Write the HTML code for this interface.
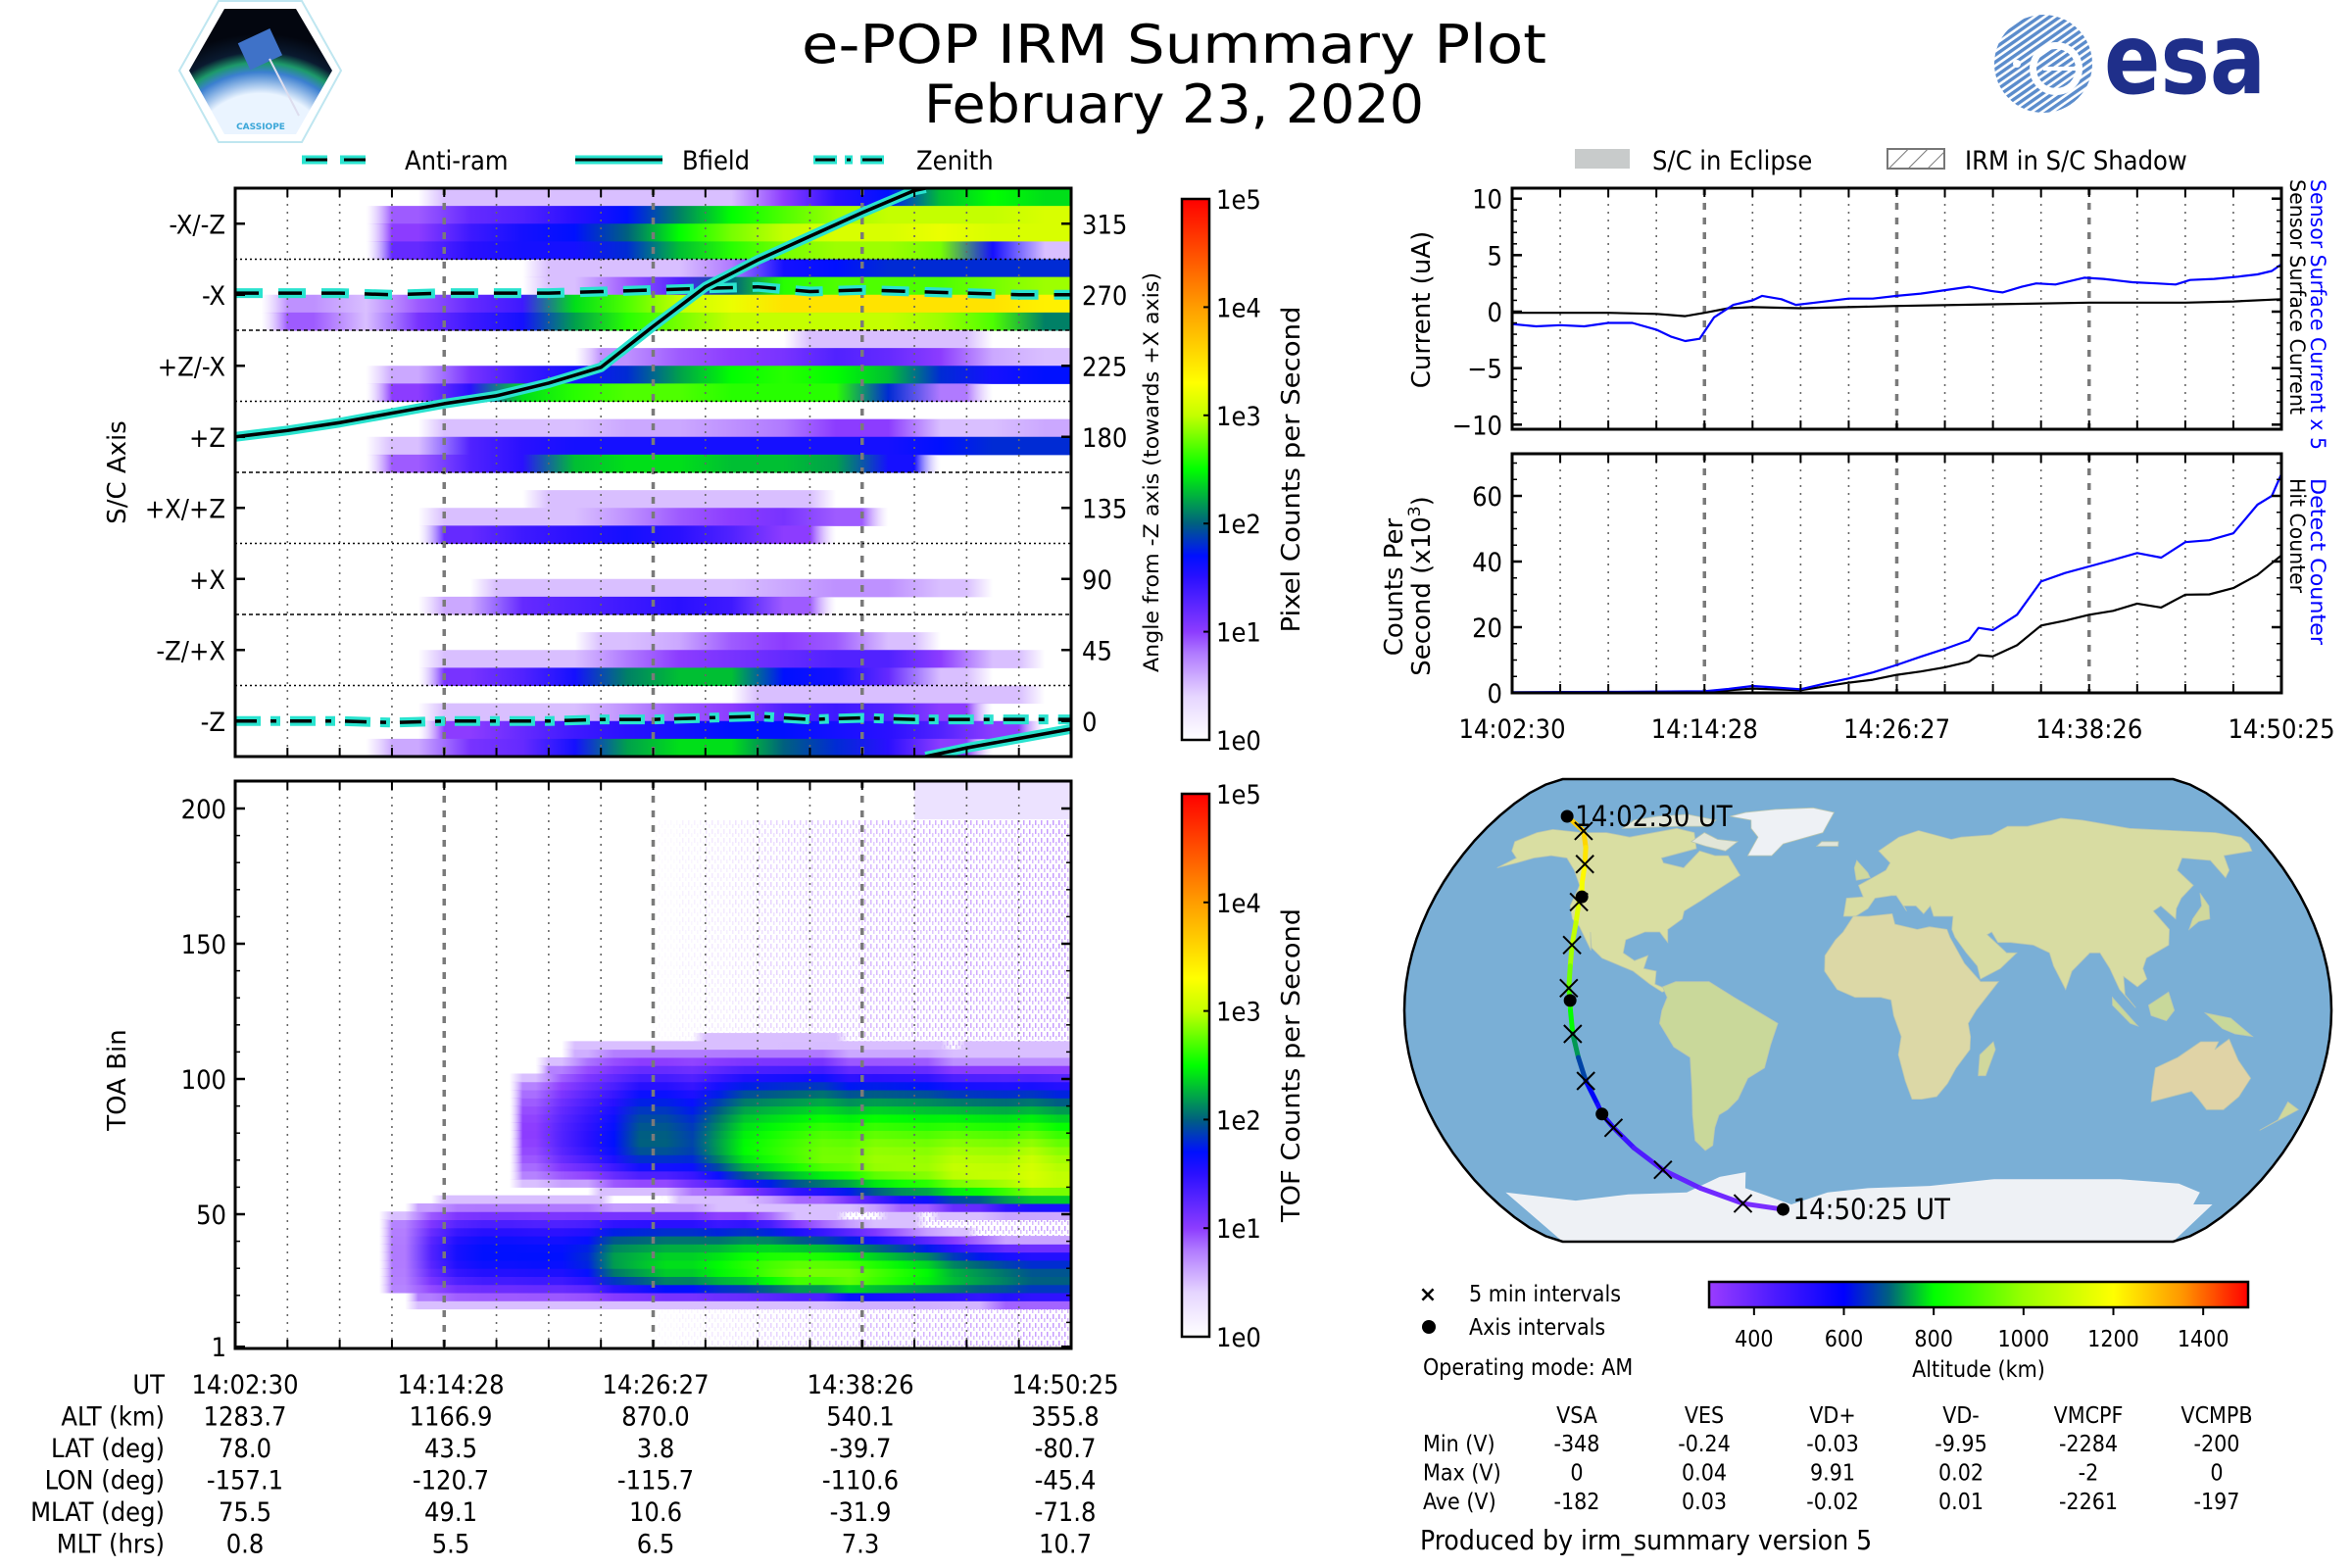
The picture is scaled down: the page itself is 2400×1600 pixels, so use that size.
<!DOCTYPE html>
<html><head><meta charset="utf-8">
<style>
html,body{margin:0;padding:0;background:#fff;}
svg{display:block;}
.c{font-family:"DejaVu Sans Condensed","DejaVu Sans","Liberation Sans",sans-serif;font-stretch:condensed;}
.n{font-family:"DejaVu Sans","Liberation Sans",sans-serif;}
</style></head>
<body>
<svg id="fig" xmlns="http://www.w3.org/2000/svg" width="2400" height="1600" viewBox="0 0 2400 1600">
<defs id="defs">
 <clipPath id="clipTL"><rect x="240" y="192" width="853" height="580"/></clipPath>
 <clipPath id="clipTOA"><rect x="240" y="797" width="853" height="579"/></clipPath>
 <clipPath id="clipCur"><rect x="1543" y="192" width="785" height="246"/></clipPath>
 <clipPath id="clipCnt"><rect x="1543" y="463" width="785" height="244"/></clipPath>
 <clipPath id="clipMap"><path id="mapClipPath" d=""/></clipPath>
 <clipPath id="clipEsa"><circle cx="2085" cy="65" r="50"/></clipPath>
 <clipPath id="clipEsaIn"><circle cx="2098" cy="70" r="20"/></clipPath>
 <linearGradient id="cbGrad" x1="0" y1="1" x2="0" y2="0"></linearGradient>
 <linearGradient id="altGrad" x1="0" y1="0" x2="1" y2="0"></linearGradient>
 <pattern id="noisePat" width="6" height="9" patternUnits="userSpaceOnUse">
  <rect x="0" y="0" width="1.5" height="5" fill="#9a4dff"/>
  <rect x="3" y="4" width="1.5" height="4" fill="#b27cff"/>
 </pattern>
 <pattern id="hatchPat" width="14" height="14" patternUnits="userSpaceOnUse" patternTransform="rotate(45)">
  <line x1="0" y1="0" x2="0" y2="14" stroke="#777" stroke-width="2"/>
 </pattern>
 <pattern id="esaStripe" width="6" height="6" patternUnits="userSpaceOnUse" patternTransform="rotate(-35)">
  <rect x="0" y="0" width="6" height="3.4" fill="#5b8ccc"/>
 </pattern>
 <radialGradient id="earthGrad" cx="0.5" cy="1.15" r="0.95">
  <stop offset="0.5" stop-color="#eaf4ff"/><stop offset="0.68" stop-color="#3b7fd0"/><stop offset="0.76" stop-color="#1d9a6a"/><stop offset="0.85" stop-color="#0a1a30"/><stop offset="1" stop-color="#03060f"/>
 </radialGradient>
</defs>

<!-- Logos -->
<g>
 <polygon points="183,72 223,1 308,1 348,72 308,145 223,145" fill="#fff" stroke="#bfe6f0" stroke-width="2"/>
 <polygon points="193,72 229,9 302,9 339,72 302,137 229,137" fill="url(#earthGrad)"/>
 <rect x="248" y="36" width="36" height="30" fill="#3f72c8" transform="rotate(-25 264 52)"/>
 <line x1="275" y1="60" x2="305" y2="118" stroke="#dde" stroke-width="2"/>
 <text x="266" y="132" font-size="9" fill="#3aa6d8" text-anchor="middle" class="n" font-weight="bold">CASSIOPE</text>
</g>
<g>
 <rect x="2030" y="10" width="110" height="110" fill="url(#esaStripe)" clip-path="url(#clipEsa)"/>
 <circle cx="2098" cy="70" r="27" fill="#fff"/>
 <rect x="2075" y="45" width="50" height="50" fill="url(#esaStripe)" clip-path="url(#clipEsaIn)"/>
 <rect x="2085" y="68" width="40" height="4" fill="#fff"/>
 <circle cx="2058" cy="65" r="4" fill="#fff"/>
 <text x="2147" y="95" font-size="100" font-weight="bold" fill="#1f2f8a" class="n" textLength="165" lengthAdjust="spacingAndGlyphs">esa</text>
</g>

<!-- Title -->
<text x="1198" y="64" font-size="54" text-anchor="middle" class="c" textLength="760" lengthAdjust="spacingAndGlyphs">e-POP IRM Summary Plot</text>
<text x="1198" y="125" font-size="54" text-anchor="middle" class="c" textLength="510" lengthAdjust="spacingAndGlyphs">February 23, 2020</text>

<!-- Top-left legend -->
<g>
 <g>
  <line x1="308" y1="163" x2="383" y2="163" stroke="#2ae3cf" stroke-width="9" stroke-dasharray="26,13"/>
  <line x1="310" y1="163" x2="381" y2="163" stroke="#000" stroke-width="3" stroke-dasharray="22,17" transform="translate(2,0)"/>
  <text x="413" y="173" font-size="27" class="c">Anti-ram</text>
 </g>
 <g>
  <line x1="587" y1="163" x2="676" y2="163" stroke="#2ae3cf" stroke-width="9"/>
  <line x1="587" y1="163" x2="676" y2="163" stroke="#000" stroke-width="3"/>
  <text x="696" y="173" font-size="27" class="c">Bfield</text>
 </g>
 <g>
  <line x1="830" y1="163" x2="907" y2="163" stroke="#2ae3cf" stroke-width="9" stroke-dasharray="24,8,8,8"/>
  <line x1="832" y1="163" x2="905" y2="163" stroke="#000" stroke-width="3" stroke-dasharray="20,12,4,12"/>
  <text x="935" y="173" font-size="27" class="c">Zenith</text>
 </g>
</g>

<!-- Right legend -->
<g>
 <rect x="1607" y="152" width="56" height="20" fill="#c8cbcb"/>
 <text x="1686" y="173" font-size="27" class="c">S/C in Eclipse</text>
 <rect x="1926" y="152" width="58" height="20" fill="url(#hatchPat)" stroke="#777" stroke-width="2"/>
 <text x="2005" y="173" font-size="27" class="c">IRM in S/C Shadow</text>
</g>

<g id="tlPanel"></g>
<g id="toaPanel"></g>
<g id="curPanel"></g>
<g id="cntPanel"></g>
<g id="mapPanel"></g>
<g id="cbars"></g>

<!-- Axis labels -->
<text transform="translate(128,482) rotate(-90)" font-size="26" text-anchor="middle" class="n">S/C Axis</text>
<text transform="translate(1182,482) rotate(-90)" font-size="21" text-anchor="middle" class="n" textLength="408" lengthAdjust="spacingAndGlyphs">Angle from -Z axis (towards +X axis)</text>
<text transform="translate(1326,479) rotate(-90)" font-size="26" text-anchor="middle" class="n" textLength="333" lengthAdjust="spacingAndGlyphs">Pixel Counts per Second</text>
<text transform="translate(128,1102) rotate(-90)" font-size="26" text-anchor="middle" class="n">TOA Bin</text>
<text transform="translate(1326,1087) rotate(-90)" font-size="26" text-anchor="middle" class="n" textLength="320" lengthAdjust="spacingAndGlyphs">TOF Counts per Second</text>
<text transform="translate(1459,316) rotate(-90)" font-size="26" text-anchor="middle" class="n">Current (uA)</text>
<text transform="translate(1431,599) rotate(-90)" font-size="26" text-anchor="middle" class="n">Counts Per</text>
<text transform="translate(1459,598) rotate(-90)" font-size="26" text-anchor="middle" class="n">Second (x10<tspan font-size="17" dy="-10">3</tspan><tspan dy="10">)</tspan></text>
<text transform="translate(2358,183) rotate(90)" font-size="21" fill="#0000ff" class="n" textLength="276" lengthAdjust="spacingAndGlyphs">Sensor Surface Current x 5</text>
<text transform="translate(2337,183) rotate(90)" font-size="21" fill="#000" class="n" textLength="240" lengthAdjust="spacingAndGlyphs">Sensor Surface Current</text>
<text transform="translate(2358,488) rotate(90)" font-size="21" fill="#0000ff" class="n" textLength="170" lengthAdjust="spacingAndGlyphs">Detect Counter</text>
<text transform="translate(2337,488) rotate(90)" font-size="21" fill="#000" class="n" textLength="117" lengthAdjust="spacingAndGlyphs">Hit Counter</text>

<g id="ephem"></g>

<g>
 <text x="1457" y="1328" font-size="22" text-anchor="middle" class="n" font-weight="bold">×</text>
 <text x="1499" y="1328" font-size="23" class="c">5 min intervals</text>
 <circle cx="1458" cy="1354" r="7" fill="#000"/>
 <text x="1499" y="1362" font-size="23" class="c">Axis intervals</text>
 <text x="1452" y="1403" font-size="23" class="c">Operating mode: AM</text>
</g>
<g id="voltTable"></g>
<text x="1449" y="1581" font-size="28" class="c">Produced by irm_summary version 5</text>
</svg>

<script>
// ================= DATA =================
const timeTickLabels = ["14:02:30","14:14:28","14:26:27","14:38:26","14:50:25"];
const rowLabels = ["-X/-Z","-X","+Z/-X","+Z","+X/+Z","+X","-Z/+X","-Z"];
const angleTickLabels = ["315","270","225","180","135","90","45","0"];
const colorbarLabels = ["1e0","1e1","1e2","1e3","1e4","1e5"];

const pixRow0 = [[0,0,0,0,0.4,0.4,0.4,0.5,0.5,0.5,1.0,1.5,1.7,2.3,2.5,2.4],[0,0,0,0.9,1.2,1.3,1.5,1.7,2.1,2.5,2.7,2.9,3,3,3,3.1],[0,0,0,1.0,1.4,1.6,1.7,2.0,2.5,2.8,3.0,3.1,3.1,3.2,3.1,3.1],[0,0,0,1.2,1.5,1.6,1.6,1.8,2.3,2.6,2.8,2.9,2.9,2.8,1.6,0.5]];
const pixRow1 = [[0,0,0,0,0,0,0.3,0.5,0.5,0.8,1.6,1.7,1.8,1.8,1.8,1.8],[0,0,0,0,0,0,0.5,0.9,1.3,2.0,2.6,2.7,2.7,2.7,2.8,2.9],[0,0.7,0.3,0.9,1.2,1.4,2.4,2.7,3.0,3.2,3.5,3.5,3.5,3.5,3.5,3.4],[0,0.9,0.5,1.1,1.4,1.6,2.2,2.6,2.8,3.0,3.0,3.0,3.0,2.9,2.7,2.1]];
const pixRow2 = [[0,0,0,0,0,0,0,0,0,0,0,0.4,0.4,0.3,0,0],[0,0,0,0,0,0,0,0.7,0.9,1.0,1.1,1.3,1.2,1.0,0.6,0.4],[0,0,0,0.6,1.1,1.4,1.6,1.8,2.2,2.5,2.6,2.5,2.3,1.8,1.6,1.7],[0,0,0,1.0,1.5,2.4,2.6,2.7,2.7,2.6,2.6,2.6,1.8,0.8,0,0]];
const pixRow3 = [[0,0,0,0,0,0,0,0,0,0,0,0,0,0,0,0],[0,0,0,0,0.4,0.5,0.5,0.6,0.6,0.7,0.8,1.0,1.0,0.5,0.4,0.6],[0,0,0,0.4,1.3,1.5,1.6,1.6,1.6,1.6,1.6,1.6,1.6,1.7,1.8,1.8],[0,0,0,0.9,1.3,1.5,2.3,2.4,2.4,2.3,2.3,2.2,1.6,0,0,0]];
const pixRow4 = [[0,0,0,0,0,0,0,0,0,0,0,0,0,0,0,0],[0,0,0,0,0,0,0.3,0.3,0.4,0.5,0.4,0,0,0,0,0],[0,0,0,0,0.4,0.4,0.4,0.7,0.9,1.0,1.1,0.9,0,0,0,0],[0,0,0,0,1.2,1.4,1.5,1.6,1.5,1.3,1.0,0,0,0,0,0]];
const pixRow5 = [[0,0,0,0,0,0,0,0,0,0,0,0,0,0,0,0],[0,0,0,0,0,0,0,0,0,0,0,0,0,0,0,0],[0,0,0,0,0,0.2,0.4,0.4,0.4,0.4,0.6,0.7,0.7,0.3,0,0],[0,0,0,0,0.6,1.2,1.3,1.4,1.5,1.4,0.9,0,0,0,0,0]];
const pixRow6 = [[0,0,0,0,0,0,0,0,0,0,0,0,0,0,0,0],[0,0,0,0,0,0,0,0.3,0.6,0.9,1.0,0.9,0.3,0,0,0],[0,0,0,0,0.3,0.3,0.4,0.8,1.0,1.1,1.2,1.3,1.3,1.0,0.3,0],[0,0,0,0,1.1,1.3,1.6,2.1,2.3,2.3,1.7,1.6,1.2,0.5,0,0]];
const pixRow7 = [[0,0,0,0,0,0,0,0,0,0,0.3,0.3,0.4,0.3,0.2,0],[0,0,0,0,0.3,0.4,0.5,0.7,0.9,1.0,1.3,1.4,1.3,1.0,0,0],[0,0,0,0,1.0,1.2,1.4,1.5,1.6,1.7,1.7,1.6,1.5,1.3,1.0,0],[0,0,0,0.6,1.1,1.2,1.6,2.2,2.4,2.4,2.0,1.8,1.5,1.0,0,0]];
const pixRows = [pixRow0,pixRow1,pixRow2,pixRow3,pixRow4,pixRow5,pixRow6,pixRow7];

const bfieldAngle = [180,184,189,195,201,206,214,224,250,275,292,307,322,336,343,349,355];
const antiramAngle = [271,271,271,270,271,271,271,272,273,274,275,272,273,272,271,270,270];
const zenithAngle = [0,0,0,-1,0,0,0,1,1,2,3,1,2,1,1,1,1];

const lowPeak = [0,0,0,0,0,0,0.8,1.3,1.6,1.7,1.7,1.7,1.7,1.8,2.2,2.3,2.4,2.4,2.5,2.6,2.7,2.8,2.8,2.8,2.7,2.6,2.5,2.3,2.2,2.1,2.0,2.0];
const lowCenter = [0,0,0,0,0,0,36,36,36,36,36,35,35,34,33,32,31,31,30,30,29,28,28,27,27,27,27,26,26,26,26,26];
const lowBottom = [0,0,0,0,0,0,22,19,18,18,18,18,18,18,18,18,18,18,18,18,18,18,18,17,17,17,17,17,17,16,16,16];
const lowTop = [0,0,0,0,0,0,48,52,53,53,53,53,53,53,52,52,52,52,51,51,50,48,47,46,45,44,43,42,41,40,40,40];
const upPeak = [0,0,0,0,0,0,0,0,0,0,0,1.0,1.3,1.5,1.7,2.0,2.0,1.9,2.2,2.5,2.6,2.7,2.8,2.8,2.9,2.9,2.9,3.0,3.0,3.0,3.1,3.0];
const upCenter = [0,0,0,0,0,0,0,0,0,0,0,80,78,77,77,77,77,76,75,74,73,72,71,70,69,68,67,66,65,64,63,62];
const upBottom = [0,0,0,0,0,0,0,0,0,0,0,64,62,62,60,60,60,58,58,57,56,55,55,54,53,52,52,51,51,50,50,50];
const upTop = [0,0,0,0,0,0,0,0,0,0,0,98,104,108,110,110,110,110,110,110,110,110,110,108,108,108,108,106,106,106,106,106];
const noiseLevel = [0,0,0,0,0,0,0,0,0,0,0,0,0,0,0,0,0.05,0.1,0.15,0.2,0.3,0.35,0.4,0.45,0.5,0.5,0.55,0.6,0.6,0.6,0.65,0.7];
const toaTickLabels = ["1","50","100","150","200"];
const toaTickValues = [1,50,100,150,200];

const curBlueT = [0,0.5,1,1.5,2,2.5,3,3.3,3.6,3.9,4.2,4.6,5,5.2,5.6,5.9,6.3,7,7.5,8,8.5,9,9.5,10,10.2,10.6,10.9,11.3,11.9,12.3,12.9,13.4,13.8,14.1,14.6,15.1,15.5,15.8,16];
const curBlueV = [-1.1,-1.3,-1.2,-1.3,-1.0,-1.0,-1.6,-2.2,-2.6,-2.4,-0.5,0.6,1.0,1.4,1.1,0.6,0.8,1.15,1.15,1.4,1.6,1.9,2.2,1.8,1.7,2.2,2.5,2.4,3.0,2.9,2.6,2.5,2.4,2.8,2.9,3.1,3.3,3.6,4.2];
const curBlackT = [0,2,3,3.6,4,4.5,5,6,8,10,12,14,15,16];
const curBlackV = [-0.1,-0.1,-0.2,-0.4,-0.1,0.3,0.4,0.3,0.5,0.65,0.8,0.8,0.9,1.1];
const curTickLabels = ["\u221210","\u22125","0","5","10"];
const curTickValues = [-10,-5,0,5,10];
const detT = [0,2,4,4.5,5,5.5,6,6.5,7,7.5,8,8.5,9,9.5,9.7,10,10.5,11,11.5,12,12.5,13,13.5,14,14.5,15,15.5,15.8,16];
const detV = [0.2,0.3,0.5,1.2,2.1,1.6,1.1,2.8,4.4,6.2,8.5,11,13.4,16,19.8,19.1,23.8,33.9,36.5,38.5,40.5,42.6,41.2,45.9,46.5,48.6,57.3,60,66.7];
const hitT = [0,4,5,6,7,7.5,8,8.5,9,9.5,9.7,10,10.5,11,11.5,12,12.5,13,13.5,14,14.5,15,15.5,16];
const hitV = [0.1,0.3,1.3,0.8,3.1,4,5.5,6.5,7.8,9.5,11.5,11.1,14.5,20.5,22,23.8,25,27.2,26,29.9,30,31.9,35.9,41.9];
const cntTickLabels = ["0","20","40","60"];
const cntTickValues = [0,20,40,60];

const ephemLabels = ["UT","ALT (km)","LAT (deg)","LON (deg)","MLAT (deg)","MLT (hrs)"];
const ephemAlt = ["1283.7","1166.9","870.0","540.1","355.8"];
const ephemLat = ["78.0","43.5","3.8","-39.7","-80.7"];
const ephemLon = ["-157.1","-120.7","-115.7","-110.6","-45.4"];
const ephemMlat = ["75.5","49.1","10.6","-31.9","-71.8"];
const ephemMlt = ["0.8","5.5","6.5","7.3","10.7"];

const trackMin = [0,2.5,5,7.5,10,12,12.5,15,17.5,20,22.5,24,25,27.5,30,32.5,35,36,37.5,40,42.5,45,47.5,48];
const trackLat = [78,70.8,63.5,56.5,49,43.5,41.5,33.5,25,17,8.5,3.8,0,-9,-18,-27,-36,-39.7,-45,-53,-62,-70,-77.5,-80.7];
const trackLon = [-157.1,-140,-132,-127,-123.5,-120.7,-121,-119,-118,-117,-116.5,-115.7,-115.5,-115,-114,-113,-111,-110.6,-108,-103,-95,-82,-65,-45.4];
const trackAlt = [1283.7,1270,1250,1225,1195,1166.9,1160,1110,1050,985,915,870,840,770,700,640,570,540.1,500,460,420,390,365,355.8];
const fiveMinMarks = [2.5,7.5,12.5,17.5,22.5,27.5,32.5,37.5,42.5,47.5];
const axisMarks = [0,12,24,36,48];
const altTickLabels = ["400","600","800","1000","1200","1400"];
const altTickValues = [400,600,800,1000,1200,1400];

const voltHeaders = ["VSA","VES","VD+","VD-","VMCPF","VCMPB"];
const voltRowLabels = ["Min (V)","Max (V)","Ave (V)"];
const voltMin = ["-348","-0.24","-0.03","-9.95","-2284","-200"];
const voltMax = ["0","0.04","9.91","0.02","-2","0"];
const voltAve = ["-182","0.03","-0.02","0.01","-2261","-197"];

const landNA = [[-168,66],[-162,70],[-156,71.5],[-140,70],[-128,70],[-115,68],[-95,72],[-85,70],[-80,63],[-94,59],[-92,57],[-82,55],[-78,62],[-70,60],[-64,60],[-56,52],[-66,45],[-70,42],[-76,38],[-76,35],[-81,31],[-80,26],[-82,28],[-84,30],[-90,30],[-97,27],[-97,22],[-92,19],[-87,21],[-88,16],[-83,15],[-83,10],[-78,8],[-80,7],[-85,10],[-92,15],[-105,20],[-110,24],[-112,30],[-110,23],[-117,32],[-121,35],[-124,40],[-124,48],[-130,54],[-137,59],[-145,60],[-152,59],[-158,57],[-165,55],[-160,59],[-165,62]];
const landArctic = [[-122,72],[-95,73],[-80,73],[-78,76],[-95,79],[-110,78],[-120,76]];
const landBaffin = [[-80,70],[-72,67],[-62,66],[-66,62],[-76,64],[-84,66]];
const landGreen = [[-55,60],[-44,60],[-40,65],[-22,70],[-20,75],[-18,80],[-30,83],[-50,82],[-65,80],[-72,78],[-60,76],[-58,72],[-53,68]];
const landSA = [[-80,9],[-75,11],[-62,11],[-52,5],[-35,-5],[-38,-13],[-41,-22],[-48,-26],[-53,-34],[-58,-38],[-62,-40],[-65,-45],[-68,-52],[-72,-54],[-75,-50],[-73,-40],[-71,-30],[-70,-18],[-76,-14],[-81,-5],[-80,0],[-78,5]];
const landEurasia = [[-10,36],[-9,43],[-2,43.5],[-4,48],[2,51],[8,54],[10,57],[5,62],[15,68],[25,71],[40,67],[45,68],[60,69],[70,73],[80,73],[100,77],[110,76],[130,72],[150,71],[170,70],[180,68],[180,65],[178,62],[163,60],[160,54],[156,51],[155,58],[143,59],[137,54],[140,48],[132,43],[128,39],[126,35],[122,40],[118,38],[122,31],[120,25],[110,20],[108,16],[109,12],[105,9],[100,13],[100,6],[104,1],[98,8],[95,16],[92,22],[88,22],[80,15],[77,8],[73,17],[72,22],[66,25],[57,26],[52,26],[50,30],[48,29],[55,22],[59,22],[52,16],[44,12],[43,17],[39,22],[35,28],[34,31],[35,36],[27,36],[26,40],[23,37],[20,40],[15,40],[16,38],[12,44],[10,44],[3,43],[0,39],[-5,36]];
const landAfrica = [[-17,21],[-17,15],[-12,8],[-5,5],[5,5],[9,4],[10,-2],[13,-10],[12,-17],[15,-27],[18,-34],[22,-34],[28,-33],[32,-28],[35,-22],[40,-15],[40,-10],[39,-5],[42,0],[51,11],[44,11],[38,18],[33,28],[32,31],[25,32],[20,31],[11,33],[10,37],[0,36],[-6,36],[-10,30],[-13,27]];
const landMadag = [[44,-25],[47,-25],[50,-15],[49,-12],[44,-17]];
const landAus = [[114,-22],[122,-18],[130,-12],[137,-12],[136,-15],[141,-11],[146,-19],[153,-26],[151,-33],[147,-38],[140,-38],[135,-34],[131,-31],[116,-35],[115,-31]];
const landBorneo = [[109,2],[117,7],[119,0],[116,-4],[110,-2]];
const landSumatra = [[95,5],[105,-6],[102,-5],[95,2]];
const landNG = [[131,-1],[141,-3],[150,-10],[143,-9],[138,-7]];
const landJapan = [[130,31],[135,34],[140,35],[142,40],[141,45],[139,40],[133,35]];
const landUK = [[-5,50],[1,51],[0,53],[-3,56],[-5,58],[-6,55]];
const landNZ = [[172,-35],[178,-38],[174,-41],[167,-46],[172,-42]];
const landIceland = [[-24,64],[-14,64],[-14,66],[-22,66]];
const landAnt = [[-180,-72],[-150,-76],[-120,-73],[-90,-72],[-70,-65],[-57,-63],[-60,-70],[-40,-78],[-20,-72],[0,-70],[30,-69],[60,-66],[90,-66],[120,-66],[150,-68],[165,-72],[170,-78],[180,-78],[180,-90],[-180,-90]];

// ================= HELPERS =================
const NS = "http://www.w3.org/2000/svg";
const DEFS = document.getElementById('defs');
let gradId = 0;
function mk(tag, attrs, parent){const e=document.createElementNS(NS,tag);for(const k in attrs)e.setAttribute(k,attrs[k]);parent.appendChild(e);return e;}
function hex(h){return [parseInt(h.substr(1,2),16),parseInt(h.substr(3,2),16),parseInt(h.substr(5,2),16)];}
const cmapStops = [[0,'#ffffff'],[0.4,'#e6d6ff'],[0.8,'#b07aff'],[1.0,'#8c3cff'],[1.5,'#2a10ff'],[1.7,'#0010ff'],[2.0,'#00607f'],[2.5,'#00ff00'],[3.0,'#c4ff00'],[3.3,'#ffff00'],[4.0,'#ff9d00'],[5.0,'#ff0000']];
const altStops = [[300,'#9a3cff'],[450,'#4a1aff'],[600,'#0000ff'],[700,'#006080'],[800,'#00ff00'],[1000,'#99ff00'],[1200,'#ffff00'],[1350,'#ff9900'],[1500,'#ff0000']];
function interpColor(stops,v){
  if(v<=stops[0][0])return stops[0][1];
  for(let i=1;i<stops.length;i++){if(v<=stops[i][0]){const a=hex(stops[i-1][1]),b=hex(stops[i][1]);const f=(v-stops[i-1][0])/(stops[i][0]-stops[i-1][0]);return 'rgb('+a.map((x,j)=>Math.round(x+(b[j]-x)*f)).join(',')+')';}}
  return stops[stops.length-1][1];
}
// horizontal gradient from per-column values (columns span x0..x1)
function rowGradient(vals,x0,x1){
  const id='rg'+(gradId++);
  const gr=mk('linearGradient',{id:id,gradientUnits:'userSpaceOnUse',x1:x0,x2:x1,y1:0,y2:0},DEFS);
  const n=vals.length;
  vals.forEach((v,c)=>{
    const on=v>=0.1;
    const col=interpColor(cmapStops,Math.max(v,0.5));
    const prevOn = c>0 && vals[c-1]>=0.1, nextOn = c<n-1 && vals[c+1]>=0.1;
    const o0=c/n, o1=(c+1)/n, om=(c+0.5)/n;
    // sharp edges at onset / end, smooth inside
    mk('stop',{offset:(prevOn?om:o0+0.0001).toFixed(4),'stop-color':col,'stop-opacity':on?1:0},gr);
    if(!nextOn) mk('stop',{offset:(o1-0.0001).toFixed(4),'stop-color':col,'stop-opacity':on?1:0},gr);
    else if(!prevOn) mk('stop',{offset:om.toFixed(4),'stop-color':col,'stop-opacity':on?1:0},gr);
  });
  return 'url(#'+id+')';
}
const X0=240,X1=1093,NC=16;
const xT = c => X0 + c*(X1-X0)/NC;
const RX0=1543,RX1=2328;
const xR = c => RX0 + c*(RX1-RX0)/NC;
const yA = a => 772 - (a+22.5)/360*580;
const yB = b => 1239 - (b-50)*2.76;
const yC = v => 318 - v*11.53;
const yN = v => 707 - v*3.35;

function vgrid(parent, xf, y0, y1){
  for(let c=1;c<NC;c++){
    const major=(c%4===0);
    const l=mk('line',{x1:xf(c),x2:xf(c),y1:y0,y2:y1,stroke:major?'#7a7a7a':'#666','stroke-width':major?3.5:1.6,'stroke-dasharray':major?'7,8':'2,6'},parent);
    
    
  }
}
function xticks(parent,xf,y0,y1){
  for(let c=1;c<NC;c++){
    mk('line',{x1:xf(c),x2:xf(c),y1:y1,y2:y1-9,stroke:'#000','stroke-width':2},parent);
    mk('line',{x1:xf(c),x2:xf(c),y1:y0,y2:y0+9,stroke:'#000','stroke-width':2},parent);
  }
}
function frame(parent,x0,y0,x1,y1,name){
  const r=mk('rect',{x:x0,y:y0,width:x1-x0,height:y1-y0,fill:'none',stroke:'#000','stroke-width':3},parent);
  
  
}
function txt(parent,x,y,s,size,anchor,cls,fill){const t=mk('text',{x:x,y:y,'font-size':size,'text-anchor':anchor||'start',class:cls||'c',fill:fill||'#000'},parent);t.textContent=s;return t;}

// ================= TOP-LEFT PIXEL SPECTROGRAM =================
(function(){
  const g=document.getElementById('tlPanel');
  const cells=mk('g',{'clip-path':'url(#clipTL)'},g);
  const rowH=580/8, stripH=rowH/4;
  pixRows.forEach((row,i)=>{
    row.forEach((strip,s)=>{
      if(Math.max(...strip)<0.1)return;
      const r=mk('rect',{x:X0,y:192+i*rowH+s*stripH,width:X1-X0,height:stripH+0.5,fill:rowGradient(strip,X0,X1)},cells);
      
      
    });
  });
  vgrid(g,xT,192,772);
  for(let i=1;i<8;i++){
    const l=mk('line',{x1:X0,x2:X1,y1:192+i*rowH,y2:192+i*rowH,stroke:'#000','stroke-width':1.6,'stroke-dasharray':(i%2? '2,3':'4,3')},g);
    
    
  }
  function buildSegments(arr){
    const segs=[];let cur=[];
    for(let c=0;c<arr.length;c++){
      let a=arr[c]; let w=a>=337.5?a-360:a;
      if(c>0){
        const prevRaw=arr[c-1], prevW=prevRaw>=337.5?prevRaw-360:prevRaw;
        if(Math.abs(w-prevW)>180){
          const f=(337.5-prevRaw)/(a-prevRaw);
          const xc=xT(c-1+f);
          cur.push([xc,yA(337.5)]);segs.push(cur);cur=[[xc,yA(-22.5)]];
        }
      }
      cur.push([xT(c),yA(w)]);
    }
    segs.push(cur);return segs;
  }
  const lines=mk('g',{'clip-path':'url(#clipTL)'},g);
  function drawAtt(arr,dashC,dashB,name){
    buildSegments(arr).forEach(seg=>{
      const pts=seg.map(p=>p.join(',')).join(' ');
      const a=mk('polyline',{points:pts,fill:'none',stroke:'#2ae3cf','stroke-width':10,'stroke-linejoin':'round'},lines);
      if(dashC)a.setAttribute('stroke-dasharray',dashC);
      
      
      const b=mk('polyline',{points:pts,fill:'none',stroke:'#000','stroke-width':3.5,'stroke-linejoin':'round'},lines);
      if(dashB)b.setAttribute('stroke-dasharray',dashB);
      
      
    });
  }
  drawAtt(antiramAngle,'28,16','24,20','antiram-line');
  drawAtt(zenithAngle,'26,10,10,10','22,14,6,14','zenith-line');
  drawAtt(bfieldAngle,null,null,'bfield-line');
  frame(g,X0,192,X1,772,'pixel-panel-frame');
  xticks(g,xT,192,772);
  rowLabels.forEach((lab,i)=>{
    const yc=192+(i+0.5)*rowH;
    mk('line',{x1:X0,x2:X0+10,y1:yc,y2:yc,stroke:'#000','stroke-width':2.5},g);
    mk('line',{x1:X1,x2:X1-10,y1:yc,y2:yc,stroke:'#000','stroke-width':2.5},g);
    const t=txt(g,230,yc+10,lab,27,'end');
    
    
    const t2=txt(g,1104,yc+10,angleTickLabels[i],27,'start');
    
    
  });
})();

// ================= TOA SPECTROGRAM =================
(function(){
  const g=document.getElementById('toaPanel');
  const cells=mk('g',{'clip-path':'url(#clipTOA)'},g);
  const NK=32, cw=(X1-X0)/NK, BS=3;
  for(let k=0;k<NK;k++){
    if(noiseLevel[k]<=0)continue;
    const r=mk('rect',{x:X0+k*cw,y:yB(196),width:cw+0.5,height:yB(1)-yB(196),fill:'url(#noisePat)',opacity:noiseLevel[k]*0.8},cells);
    
    
    if(noiseLevel[k]>=0.55){
      const r2=mk('rect',{x:X0+k*cw,y:yB(212),width:cw+0.5,height:yB(196)-yB(212),fill:'#ece2ff'},cells);
      
      
    }
  }
  function bandVal(b,c,lo,hi,pk){
    if(pk<=0)return 0;
    let d = b<c ? (c-b)/Math.max(1,(c-lo)) : (b-c)/Math.max(1,(hi-c));
    if(d<1) return 0.75+(pk-0.75)*(1-d*d);
    if(d<1.2) return 0.75*(1.2-d)/0.2;
    return 0;
  }
  for(let b=0;b<212;b+=BS){
    const bc=b+BS/2;
    const vals=[];
    for(let k=0;k<NK;k++){
      const v=Math.max(bandVal(bc,lowCenter[k],lowBottom[k],lowTop[k],lowPeak[k]),bandVal(bc,upCenter[k],upBottom[k],upTop[k],upPeak[k]));
      vals.push(v<0.15?0:v);
    }
    if(Math.max(...vals)<0.15)continue;
    const r=mk('rect',{x:X0,y:yB(b+BS),width:X1-X0,height:yB(b)-yB(b+BS)+0.5,fill:rowGradient(vals,X0,X1)},cells);
    
    
  }
  vgrid(g,xT,797,1376);
  frame(g,X0,797,X1,1376,'toa-panel-frame');
  xticks(g,xT,797,1376);
  for(let b=10;b<=210;b+=10){mk('line',{x1:X0,x2:X0+5,y1:yB(b),y2:yB(b),stroke:'#000','stroke-width':1.5},g);mk('line',{x1:X1,x2:X1-5,y1:yB(b),y2:yB(b),stroke:'#000','stroke-width':1.5},g);}
  toaTickValues.forEach((v,i)=>{
    mk('line',{x1:X0,x2:X0+10,y1:yB(v),y2:yB(v),stroke:'#000','stroke-width':2.5},g);
    mk('line',{x1:X1,x2:X1-10,y1:yB(v),y2:yB(v),stroke:'#000','stroke-width':2.5},g);
    const t=txt(g,231,yB(v)+10,toaTickLabels[i],27,'end');
    
    
  });
})();

// ================= COLORBARS =================
(function(){
  const grad=document.getElementById('cbGrad');
  for(let i=0;i<=50;i++){const v=i/10;mk('stop',{offset:(i/50).toFixed(3),'stop-color':interpColor(cmapStops,v)},grad);}
  const ag=document.getElementById('altGrad');
  for(let i=0;i<=48;i++){const a=300+i*25;mk('stop',{offset:(i/48).toFixed(3),'stop-color':interpColor(altStops,a)},ag);}
  const g=document.getElementById('cbars');
  [[203,755,'pixel-colorbar'],[810,1364,'tof-colorbar']].forEach(([y0,y1,name])=>{
    const r=mk('rect',{x:1206,y:y0,width:28,height:y1-y0,fill:'url(#cbGrad)',stroke:'#000','stroke-width':2.5},g);
    
    
    colorbarLabels.forEach((lab,k)=>{
      const y=y1-k*(y1-y0)/5;
      mk('line',{x1:1228,x2:1234,y1:y,y2:y,stroke:'#000','stroke-width':2},g);
      const t=txt(g,1241,y+10,lab,27,'start');
      
      
    });
  });
  const ar=mk('rect',{x:1744,y:1308,width:550,height:26,fill:'url(#altGrad)',stroke:'#000','stroke-width':2.5},g);
  
  
  altTickValues.forEach((v,i)=>{
    const x=1744+(v-300)/1200*550;
    mk('line',{x1:x,x2:x,y1:1334,y2:1342,stroke:'#000','stroke-width':2},g);
    const t=txt(g,x,1374,altTickLabels[i],23,'middle');
    
    
  });
  const at=txt(g,2019,1405,'Altitude (km)',23,'middle');
  
  
})();

// ================= RIGHT LINE PANELS =================
function linePanel(gid,y0,y1,yf,tickVals,tickLabs,minorStep,minorRange,series,clip,name){
  const g=document.getElementById(gid);
  vgrid(g,xR,y0,y1);
  const lg=mk('g',{'clip-path':'url(#'+clip+')'},g);
  series.forEach(s=>{
    const pts=s.t.map((t,i)=>xR(t).toFixed(1)+','+yf(s.v[i]).toFixed(1)).join(' ');
    const p=mk('polyline',{points:pts,fill:'none',stroke:s.color,'stroke-width':2.2,'stroke-linejoin':'round'},lg);
    
    
  });
  frame(g,RX0,y0,RX1,y1,name+'-frame');
  xticks(g,xR,y0,y1);
  for(let v=minorRange[0];v<=minorRange[1];v+=minorStep){const y=yf(v);if(y<y0||y>y1)continue;mk('line',{x1:RX0,x2:RX0+5,y1:y,y2:y,stroke:'#000','stroke-width':1.5},g);mk('line',{x1:RX1,x2:RX1-5,y1:y,y2:y,stroke:'#000','stroke-width':1.5},g);}
  tickVals.forEach((v,i)=>{
    const y=yf(v);
    mk('line',{x1:RX0,x2:RX0+10,y1:y,y2:y,stroke:'#000','stroke-width':2.5},g);
    mk('line',{x1:RX1,x2:RX1-10,y1:y,y2:y,stroke:'#000','stroke-width':2.5},g);
    const t=txt(g,1533,y+10,tickLabs[i],27,'end');
    
    
  });
}
linePanel('curPanel',192,438,yC,curTickValues,curTickLabels,1,[-10,10],[
  {t:curBlackT,v:curBlackV,color:'#000',name:'sensor-current-line'},
  {t:curBlueT,v:curBlueV,color:'#0000ff',name:'sensor-current-x5-line'}],'clipCur','current-panel');
linePanel('cntPanel',463,707,yN,cntTickValues,cntTickLabels,5,[0,70],[
  {t:hitT,v:hitV,color:'#000',name:'hit-counter-line'},
  {t:detT,v:detV,color:'#0000ff',name:'detect-counter-line'}],'clipCnt','counts-panel');
(function(){
  const g=document.getElementById('cntPanel');
  timeTickLabels.forEach((lab,i)=>{
    const t=txt(g,xR(i*4),753,lab,27,'middle');
    
    
  });
})();

// ================= EPHEMERIS TABLE =================
(function(){
  const g=document.getElementById('ephem');
  const rows=[timeTickLabels,ephemAlt,ephemLat,ephemLon,ephemMlat,ephemMlt];
  const colX=[250,460,669,878,1087];
  rows.forEach((vals,r)=>{
    const y=1422+r*32.5;
    const l=txt(g,168,y,ephemLabels[r],27,'end');
    
    
    vals.forEach((v,c)=>{
      const t=txt(g,colX[c],y,v,27,'middle');
      
      
    });
  });
})();

// ================= VOLTAGE TABLE =================
(function(){
  const g=document.getElementById('voltTable');
  const colX=[1609,1739,1870,2001,2131,2262];
  voltHeaders.forEach((h,i)=>{const t=txt(g,colX[i],1452,h,23,'middle');});
  [voltMin,voltMax,voltAve].forEach((row,r)=>{
    const y=1481+r*29.5;
    const l=txt(g,1452,y,voltRowLabels[r],23,'start');
    
    
    row.forEach((v,i)=>{const t=txt(g,colX[i],y,v,23,'middle');});
  });
})();

// ================= MAP =================
(function(){
  const PDFE=[0,.062,.124,.186,.248,.310,.372,.434,.4958,.5571,.6176,.6769,.7346,.7903,.8435,.8936,.9394,.9761,1.0];
  function tab(t,a){a=Math.min(90,Math.abs(a));const i=Math.min(17,Math.floor(a/5));const f=(a-i*5)/5;return t[i]+(t[i+1]-t[i])*f;}
  const plen = lat => 1 - 0.27*Math.pow(Math.min(90,Math.abs(lat))/80,2);
  const cx=1906,cy=1031,W=473,H=215;
  const proj=(lon,lat)=>[cx+W*plen(lat)*lon/180, cy-H*tab(PDFE,lat)*Math.sign(lat)];
  const HO=236;
  const projO=(lon,lat)=>[cx+W*plen(lat)*lon/180, cy-HO*tab(PDFE,lat)*Math.sign(lat)];
  const g=document.getElementById('mapPanel');
  let d='';
  for(let lat=90;lat>=-90;lat-=5){const p=projO(180,lat);d+=(lat===90?'M':'L')+p[0].toFixed(1)+','+p[1].toFixed(1);}
  for(let lat=-90;lat<=90;lat+=5){const p=projO(-180,lat);d+='L'+p[0].toFixed(1)+','+p[1].toFixed(1);}
  d+='Z';
  document.getElementById('mapClipPath').setAttribute('d',d);
  const ocean=mk('path',{d:d,fill:'#7aafd6'},g);
  
  
  const lg=mk('g',{'clip-path':'url(#clipMap)'},g);
  const lands=[[landNA,'#d9dea2','north-america'],[landArctic,'#e2e6d8','arctic-islands'],[landBaffin,'#e2e6d8','baffin-island'],[landGreen,'#eef1f5','greenland'],[landSA,'#c9d89a','south-america'],[landEurasia,'#d8dca2','eurasia'],[landAfrica,'#dcd8a6','africa'],[landMadag,'#d0d89c','madagascar'],[landAus,'#e0d3a6','australia'],[landBorneo,'#c8d89a','borneo'],[landSumatra,'#c8d89a','sumatra'],[landNG,'#c8d89a','new-guinea'],[landJapan,'#d0d89c','japan'],[landUK,'#d0d89c','britain'],[landNZ,'#d0d89c','new-zealand'],[landIceland,'#e0e4d8','iceland']];
  lands.forEach(([poly,col,name])=>{
    let pd='';
    poly.forEach((p,i)=>{const q=proj(p[0],p[1]);pd+=(i?'L':'M')+q[0].toFixed(1)+','+q[1].toFixed(1);});
    pd+='Z';
    const e=mk('path',{d:pd,fill:col,stroke:'#b9c6b0','stroke-width':0.8},lg);
    
    
  });
  // Antarctica extends to frame bottom
  {
    let pd='';
    landAnt.forEach((p,i)=>{const q=p[1]<=-89?projO(p[0],p[1]):proj(p[0],p[1]);pd+=(i?'L':'M')+q[0].toFixed(1)+','+q[1].toFixed(1);});
    pd+='Z';
    const e=mk('path',{d:pd,fill:'#eef1f5'},lg);
    
    
  }
  const ol=mk('path',{d:d,fill:'none',stroke:'#000','stroke-width':2.5},g);
  
  
  function posAt(m){
    for(let i=1;i<trackMin.length;i++){if(m<=trackMin[i]){const f=(m-trackMin[i-1])/(trackMin[i]-trackMin[i-1]);return proj(trackLon[i-1]+(trackLon[i]-trackLon[i-1])*f,trackLat[i-1]+(trackLat[i]-trackLat[i-1])*f);}}
    return proj(trackLon[trackLon.length-1],trackLat[trackLat.length-1]);
  }
  for(let i=1;i<trackMin.length;i++){
    const a=proj(trackLon[i-1],trackLat[i-1]),b=proj(trackLon[i],trackLat[i]);
    const s=mk('line',{x1:a[0],y1:a[1],x2:b[0],y2:b[1],stroke:interpColor(altStops,(trackAlt[i-1]+trackAlt[i])/2),'stroke-width':5,'stroke-linecap':'round'},g);
    
    
  }
  fiveMinMarks.forEach(m=>{
    const p=posAt(m);
    const x=mk('path',{d:`M${p[0]-9},${p[1]-9}L${p[0]+9},${p[1]+9}M${p[0]-9},${p[1]+9}L${p[0]+9},${p[1]-9}`,stroke:'#000','stroke-width':2,fill:'none'},g);
    
    
  });
  axisMarks.forEach(m=>{
    const p=posAt(m);
    const c=mk('circle',{cx:p[0],cy:p[1],r:6.5,fill:'#000'},g);
    
    
  });
  const s0=posAt(0), s1=posAt(48);
  const t0=txt(g,s0[0]+8,s0[1]+10,timeTickLabels[0]+' UT',29,'start');
  
  
  const t1=txt(g,s1[0]+10,s1[1]+10,timeTickLabels[4]+' UT',29,'start');
  
  
})();
</script>
</body></html>
